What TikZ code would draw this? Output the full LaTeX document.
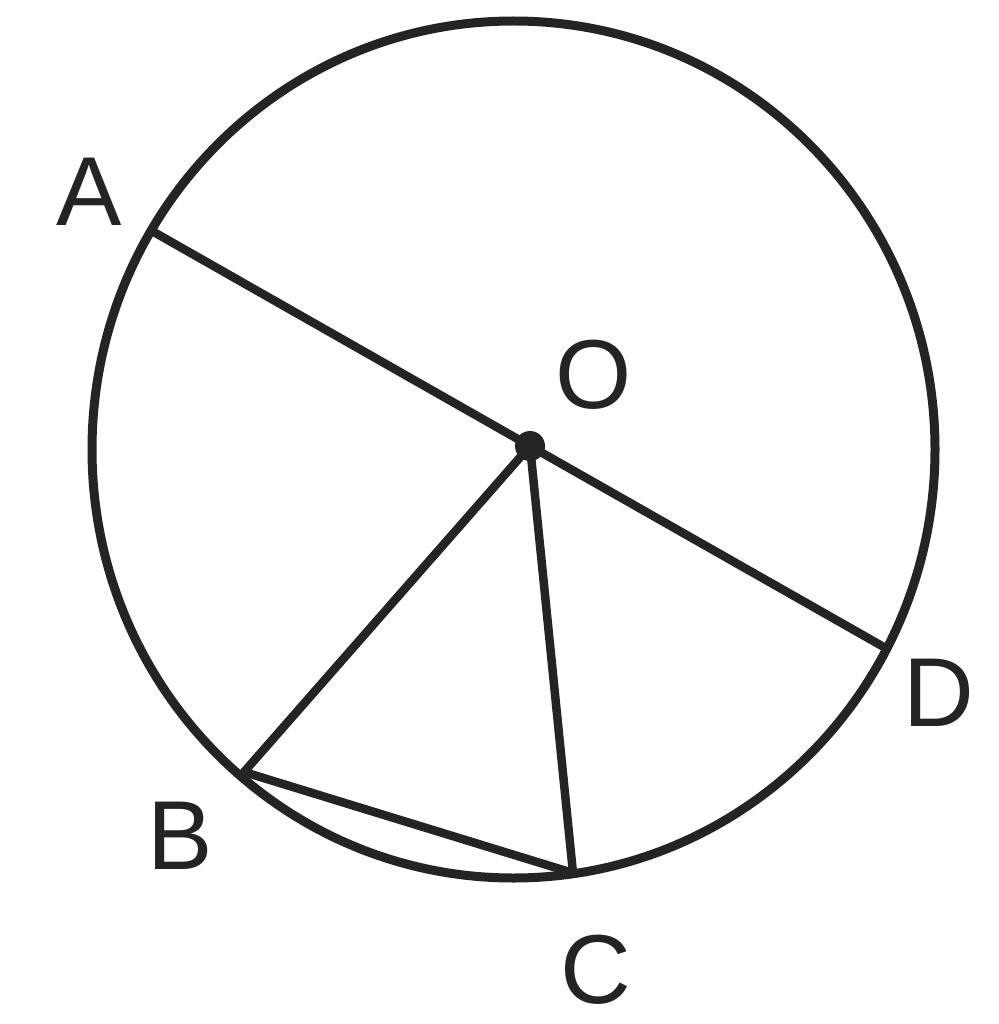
\documentclass[tikz,border=0pt]{standalone}
\usepackage{fontspec}
\setmainfont{Liberation Sans}
\definecolor{ink}{RGB}{38,35,36}
\begin{document}
\begin{tikzpicture}[x=1pt,y=-1pt,
  geo/.style={draw=ink,line width=8.5pt,line cap=round,line join=round},
  lbl/.style={text=ink,font=\fontsize{98}{98}\selectfont,inner sep=0pt}]
\useasboundingbox (0,0) rectangle (998,1024);
\draw[geo,line width=9pt] (513.5,449.5) ellipse [x radius=421.5, y radius=428.5];
\coordinate (O) at (530,446);
\coordinate (A) at (152,231);
\coordinate (D) at (882,646);
\coordinate (B) at (244,772);
\coordinate (C) at (573,873);
\draw[geo] (A) -- (O) -- (D);
\draw[geo] (O) -- (B);
\draw[geo] (O) -- (C);
\draw[geo] (B) -- (C);
\fill[ink] (O) circle (15);
\node[lbl] (lA) at (89,192) {A};
\node[lbl] (lO) at (594,375) {O};
\node[lbl] (lB) at (180,836) {B};
\node[lbl] (lC) at (596,970) {C};
\node[lbl] (lD) at (939,693) {D};
\end{tikzpicture}
\end{document}
